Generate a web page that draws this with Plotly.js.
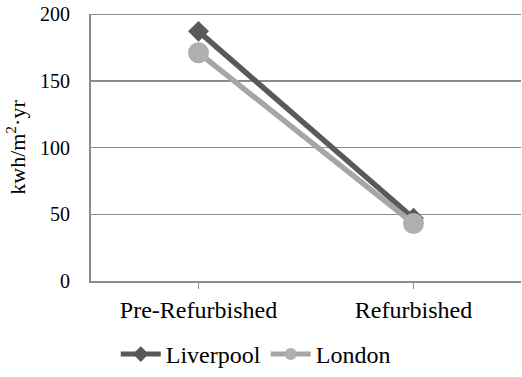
<!DOCTYPE html>
<html>
<head>
<meta charset="utf-8">
<script src="https://cdn.plot.ly/plotly-3.0.1.min.js"></script>
<style>
html,body{margin:0;padding:0;background:#fff}
#chart{width:522px;height:377px}
</style>
</head>
<body>
<div id="chart"></div>
<script>
// Annual energy use before and after refurbishment
const categories = ['Pre-Refurbished', 'Refurbished'];
const liverpool = [187, 47];
const london = [171, 43];

const serif = 'Liberation Serif, DejaVu Serif, serif';
const tickFontY = {family: serif, size: 20, color: '#000'};
const tickFontX = {family: serif, size: 24, color: '#000'};
const legendFont = {family: serif, size: 24, color: '#000'};
const titleFont = {family: serif, size: 22, color: '#000'};

const traces = [
  {
    x: categories, y: liverpool, name: 'Liverpool', type: 'scatter', mode: 'lines+markers',
    line: {color: '#595959', width: 5.5},
    marker: {symbol: 'diamond', size: 16, color: '#595959'}
  },
  {
    x: categories, y: london, name: 'London', type: 'scatter', mode: 'lines+markers',
    line: {color: '#a6a6a6', width: 5.5},
    marker: {symbol: 'circle', size: 21, color: '#afafaf'}
  }
];

const layout = {
  width: 522, height: 377,
  margin: {l: 91, r: 1, t: 14, b: 96},
  paper_bgcolor: '#fff', plot_bgcolor: '#fff',
  font: tickFontY,
  showlegend: true,
  legend: {
    orientation: 'h', xref: 'container', x: 0.49, xanchor: 'center',
    yref: 'container', y: 0.0, yanchor: 'bottom',
    font: legendFont, itemsizing: 'constant', itemwidth: 40
  },
  xaxis: {
    type: 'category', range: [-0.5, 1.5],
    showline: true, linecolor: '#8c8c8c', linewidth: 2,
    ticks: 'outside', ticklen: 6, tickcolor: '#8c8c8c', tickwidth: 1.5,
    showgrid: false, zeroline: false, tickfont: tickFontX
  },
  yaxis: {
    range: [0, 200], dtick: 50,
    showline: true, linecolor: '#8c8c8c', linewidth: 2,
    showgrid: true, gridcolor: '#8c8c8c', gridwidth: 1.5,
    zeroline: false, ticks: '', ticklabelstandoff: 15, tickfont: tickFontY,
    title: {text: 'kwh/m<sup>2</sup>·yr', font: titleFont, standoff: 8}
  },
  shapes: [
    {type: 'line', xref: 'paper', yref: 'y', x0: 0, x1: 1, y0: 200, y1: 200, line: {color: '#8c8c8c', width: 2}}
  ]
};

Plotly.newPlot('chart', traces, layout, {staticPlot: true, displayModeBar: false});
</script>
</body>
</html>
